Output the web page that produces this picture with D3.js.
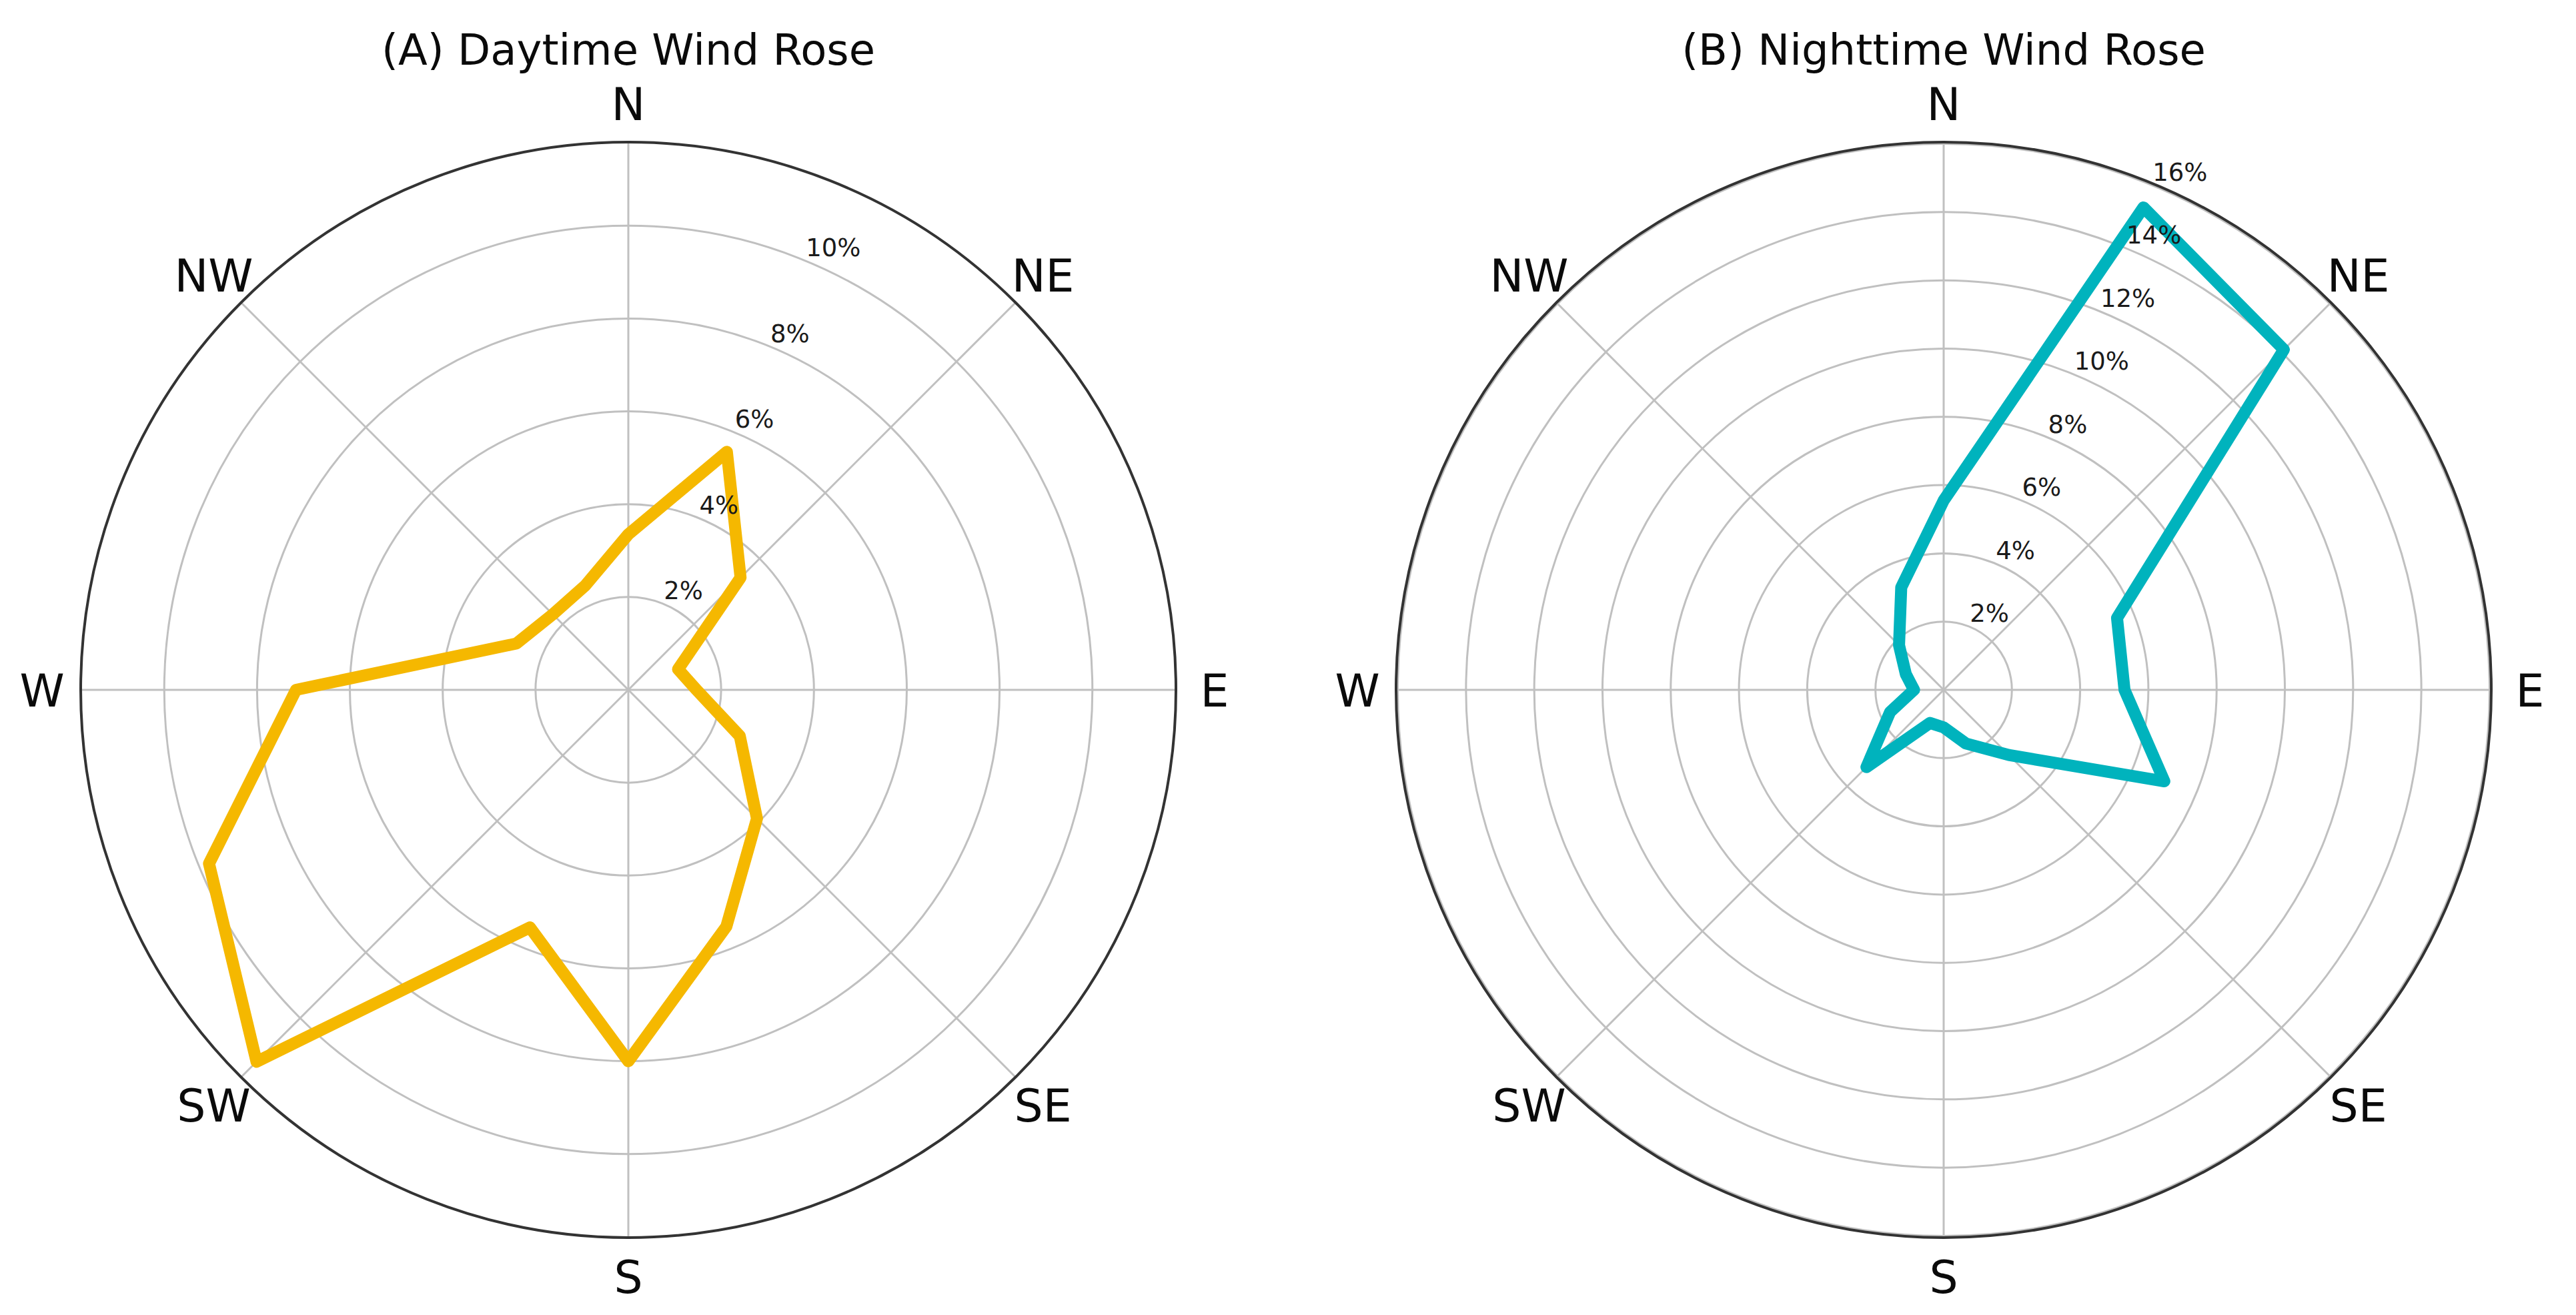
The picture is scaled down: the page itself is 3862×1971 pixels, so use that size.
<!DOCTYPE html>
<html><head><meta charset="utf-8">
<script src="https://cdn.jsdelivr.net/npm/d3@7"></script>
<style>html,body{margin:0;padding:0;background:#fff;}</style>
</head><body>
<svg id="chart" width="3862" height="1971"></svg>
<script>
// ---- data ----
const directions = ["N","NNE","NE","ENE","E","ESE","SE","SSE","S","SSW","SW","WSW","W","WNW","NW","NNW"];
const compassLabels = ["N","NE","E","SE","S","SW","W","NW"];
const daytimeValues   = [3.35, 5.55, 3.42, 1.16, 1.47, 2.6, 3.92, 5.52, 8.0, 5.54, 11.33, 9.78, 7.16, 2.61, 2.3, 2.43];
const nighttimeValues = [5.55, 15.3, 14.1, 5.5, 5.3, 7.0, 2.7, 1.7, 1.1, 1.05, 3.2, 1.7, 0.87, 1.2, 1.85, 3.25];
const daytimeTicks   = [2, 4, 6, 8, 10];
const nighttimeTicks = [2, 4, 6, 8, 10, 12, 14, 16];
const daytimeMax = 11.8;
const nighttimeMax = 16.05;
const panelTitles = ["(A) Daytime Wind Rose", "(B) Nighttime Wind Rose"];
const seriesColors = ["#f5b800", "#00b3bd"];

// ---- layout ----
const W = 3862, H = 1971;
const R = 821;
const cy = 1034;
const panels = [
  {cx: 942,  values: daytimeValues,   ticks: daytimeTicks,   max: daytimeMax,   title: panelTitles[0], color: seriesColors[0]},
  {cx: 2914, values: nighttimeValues, ticks: nighttimeTicks, max: nighttimeMax, title: panelTitles[1], color: seriesColors[1]}
];
const FONT = "'DejaVu Sans', sans-serif";
const svg = d3.select("#chart");
svg.append("rect").attr("width", W).attr("height", H).attr("fill", "#fff");

const angleScale = d3.scaleBand().domain(directions).range([0, 2 * Math.PI]).align(0).paddingInner(0).paddingOuter(0);
const dirAngle = d => angleScale(d); // 0 = north, clockwise

panels.forEach(p => {
  const g = svg.append("g").attr("transform", `translate(${p.cx},${cy})`);
  const r = d3.scaleLinear().domain([0, p.max]).range([0, R]);

  // grid rings
  g.selectAll("circle.ring").data(p.ticks.filter(t => t <= p.max)).enter()
    .append("circle").attr("class", "ring")
    .attr("r", d => r(d)).attr("fill", "none")
    .attr("stroke", "#c0c0c0").attr("stroke-width", 3);

  // spokes
  g.selectAll("line.spoke").data(compassLabels).enter()
    .append("line").attr("class", "spoke")
    .attr("x1", 0).attr("y1", 0)
    .attr("x2", d => R * Math.sin(dirAngle(d)))
    .attr("y2", d => -R * Math.cos(dirAngle(d)))
    .attr("stroke", "#c0c0c0").attr("stroke-width", 3);

  // outer circle
  g.append("circle").attr("r", R).attr("fill", "none")
    .attr("stroke", "#333").attr("stroke-width", 4);

  // data polygon
  const line = d3.lineRadial()
    .angle((d, i) => dirAngle(directions[i]))
    .radius(d => r(d))
    .curve(d3.curveLinearClosed);
  g.append("path").datum(p.values)
    .attr("d", line)
    .attr("fill", "none")
    .attr("stroke", p.color)
    .attr("stroke-width", 18)
    .attr("stroke-linejoin", "round");

  // radial tick labels at 22.5 deg
  const la = Math.PI / 8;
  g.selectAll("text.tick").data(p.ticks.filter(t => t <= p.max)).enter()
    .append("text").attr("class", "tick")
    .attr("x", d => r(d) * Math.sin(la))
    .attr("y", d => -r(d) * Math.cos(la) - 7)
    .attr("text-anchor", "start")
    .attr("font-family", FONT).attr("font-size", 37).attr("fill", "#1a1a1a")
    .text(d => d + "%");

  // compass labels
  const LR = R + 58;
  g.selectAll("text.dir").data(compassLabels).enter()
    .append("text").attr("class", "dir")
    .attr("x", d => LR * Math.sin(dirAngle(d)))
    .attr("y", d => -LR * Math.cos(dirAngle(d)) + 25)
    .attr("text-anchor", "middle")
    .attr("font-family", FONT).attr("font-size", 68).attr("fill", "#0a0a0a")
    .text(d => d);

  // title
  svg.append("text")
    .attr("x", p.cx).attr("y", 97)
    .attr("text-anchor", "middle")
    .attr("font-family", FONT).attr("font-size", 64).attr("fill", "#0a0a0a")
    .text(p.title);
});
</script>
</body></html>
